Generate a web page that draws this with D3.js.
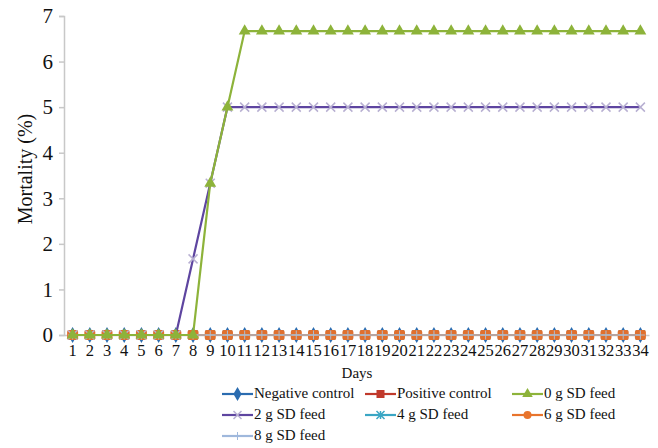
<!DOCTYPE html>
<html><head><meta charset="utf-8">
<script src="https://cdn.jsdelivr.net/npm/d3@7"></script>
<style>body{margin:0;background:#fff}svg{display:block}</style>
</head><body><svg id="c" width="658" height="448"></svg>
<script>
const days = d3.range(1, 35);
const yTicks = [0,1,2,3,4,5,6,7];
const seriesNames = ["Negative control","Positive control","0 g SD feed","2 g SD feed","4 g SD feed","6 g SD feed","8 g SD feed"];
const negativeControl = [0,0,0,0,0,0,0,0,0,0,0,0,0,0,0,0,0,0,0,0,0,0,0,0,0,0,0,0,0,0,0,0,0,0];
const positiveControl = [0,0,0,0,0,0,0,0,0,0,0,0,0,0,0,0,0,0,0,0,0,0,0,0,0,0,0,0,0,0,0,0,0,0];
const feed0g = [0,0,0,0,0,0,0,0,3.33,5,6.67,6.67,6.67,6.67,6.67,6.67,6.67,6.67,6.67,6.67,6.67,6.67,6.67,6.67,6.67,6.67,6.67,6.67,6.67,6.67,6.67,6.67,6.67,6.67];
const feed2g = [0,0,0,0,0,0,0,1.67,3.33,5,5,5,5,5,5,5,5,5,5,5,5,5,5,5,5,5,5,5,5,5,5,5,5,5];
const feed4g = [0,0,0,0,0,0,0,0,0,0,0,0,0,0,0,0,0,0,0,0,0,0,0,0,0,0,0,0,0,0,0,0,0,0];
const feed6g = [0,0,0,0,0,0,0,0,0,0,0,0,0,0,0,0,0,0,0,0,0,0,0,0,0,0,0,0,0,0,0,0,0,0];
const feed8g = [0,0,0,0,0,0,0,0,0,0,0,0,0,0,0,0,0,0,0,0,0,0,0,0,0,0,0,0,0,0,0,0,0,0];

const values = [negativeControl, positiveControl, feed0g, feed2g, feed4g, feed6g, feed8g];
const colors = ["#2b6cb0","#c0392b","#8db33a","#5e45a0","#3aa6c4","#e8742c","#9fb8dc"];
const markerColors = ["#2b6cb0","#c0392b","#8db33a","#b8b0d2","#3aa6c4","#e0702e","#b0bccb"];
const markers = ["diamond","square","triangle","x","asterisk","circle","plus"];
const FONT = "'Times New Roman', 'Liberation Serif', Tinos, serif";

const svg = d3.select("#c");
const x = d3.scaleBand().domain(days).range([64, 649]);
const y = d3.scaleLinear().domain([0,7]).range([335, 16]);
const cx = d => x(d) + x.bandwidth()/2;

function styleText(sel, size) {
  sel.style("font-family", FONT).style("font-size", size + "px").attr("fill", "#111");
}

// y axis
const ya = svg.append("g").attr("transform","translate(64,0)")
  .call(d3.axisLeft(y).tickValues(yTicks).tickSize(5).tickPadding(6).tickFormat(d3.format("d")));
ya.select(".domain").attr("stroke","#c8c8c8").attr("stroke-width",1.5);
ya.selectAll(".tick line").attr("stroke","#c8c8c8").attr("stroke-width",1.5);
styleText(ya.selectAll("text"), 21);

// x axis
const xa = svg.append("g").attr("transform","translate(0,335)")
  .call(d3.axisBottom(x).tickSize(0).tickPadding(9));
xa.select(".domain").attr("stroke","#c8c8c8").attr("stroke-width",1.5);
styleText(xa.selectAll("text"), 16.5);

styleText(svg.append("text").attr("transform","translate(32,169) rotate(-90)").attr("text-anchor","middle").text("Mortality (%)"), 20);
styleText(svg.append("text").attr("x",357).attr("y",378).attr("text-anchor","middle").text("Days"), 15);

function drawMarker(g, type, col, s) {
  if (type === "diamond") g.append("path").attr("d", d3.symbol(d3.symbolDiamond, s*s*0.9)()).attr("fill", col);
  else if (type === "square") g.append("rect").attr("x",-s/2).attr("y",-s/2).attr("width",s).attr("height",s).attr("fill",col);
  else if (type === "triangle") g.append("path").attr("d", d3.symbol(d3.symbolTriangle, s*s*0.75)()).attr("fill", col);
  else if (type === "x") g.append("path").attr("d", `M${-s/2},${-s/2}L${s/2},${s/2}M${-s/2},${s/2}L${s/2},${-s/2}`).attr("stroke", col).attr("stroke-width",1.5).attr("fill","none");
  else if (type === "asterisk") g.append("path").attr("d", `M${-s/2},${-s/2}L${s/2},${s/2}M${-s/2},${s/2}L${s/2},${-s/2}M0,${-s/2}L0,${s/2}`).attr("stroke", col).attr("stroke-width",1.5).attr("fill","none");
  else if (type === "circle") g.append("rect").attr("x",-s/2).attr("y",-s/2+0.5).attr("width",s).attr("height",s-1).attr("rx",2).attr("fill",col);
  else if (type === "plus") g.append("path").attr("d", `M${-s/2},0L${s/2},0M0,${-s/2}L0,${s/2}`).attr("stroke", col).attr("stroke-width",1).attr("fill","none");
}

const line = d3.line().x((d,i) => cx(days[i])).y(d => y(d));
const order = [0,1,4,5,6,3,2];
order.forEach(k => {
  const g = svg.append("g");
  g.append("path").attr("d", line(values[k])).attr("fill","none").attr("stroke", k===6 ? "#a8b4c4" : colors[k]).attr("stroke-width", k===6 ? 1.5 : 2.2);
  values[k].forEach((v,i) => {
    const m = g.append("g").attr("transform",`translate(${cx(days[i])},${y(v)})`);
    drawMarker(m, markers[k], markerColors[k], k===5 ? 11 : 9);
  });
});

// legend
const legPos = [[222,398],[365,398],[512,398],[222,419],[365,419],[512,419],[222,440]];
seriesNames.forEach((n,k) => {
  const [lx,ly] = legPos[k];
  const g = svg.append("g");
  g.append("line").attr("x1",lx).attr("x2",lx+31).attr("y1",ly-4).attr("y2",ly-4).attr("stroke",colors[k]).attr("stroke-width",2.2);
  const m = g.append("g").attr("transform",`translate(${lx+15.5},${ly-4})`);
  if (markers[k]==="circle") m.append("circle").attr("r",4).attr("fill",colors[k]);
  else drawMarker(m, markers[k], k===3 ? "#b8b0d2" : (k===6 ? "#9fb8dc" : markerColors[k]), 8);
  styleText(g.append("text").attr("x",lx+32).attr("y",ly).text(n), 15);
});
</script></body></html>
